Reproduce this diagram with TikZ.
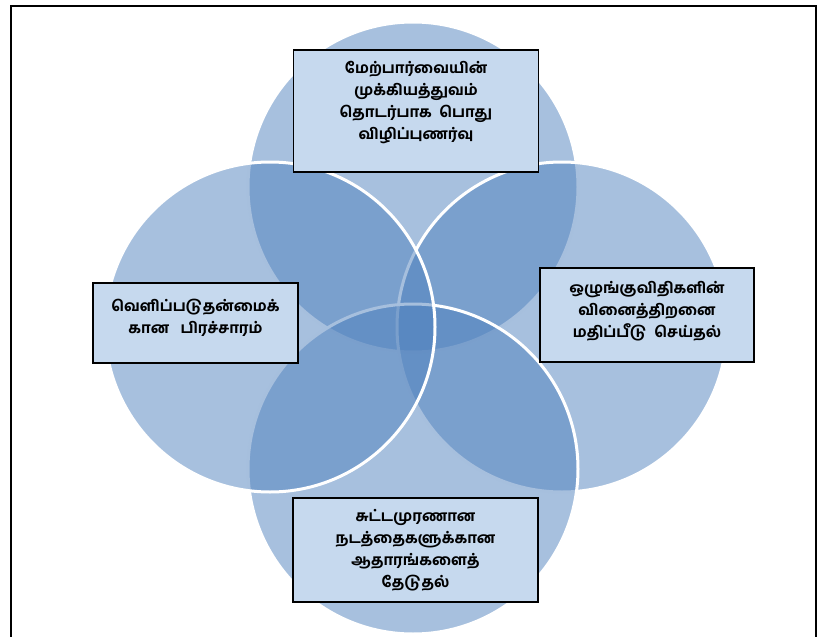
\documentclass[tikz,border=0pt]{standalone}
\usepackage{fontspec}
\newfontfamily\tamilfont[Script=Tamil]{Hind Madurai Bold}
\usepackage{tikz}
\definecolor{vennblue}{RGB}{79,129,189}
\definecolor{boxblue}{RGB}{198,217,238}

\begin{document}
\begin{tikzpicture}[x=1pt,y=-1pt,
  venn/.style={circle,minimum size=330pt,inner sep=0pt,fill=vennblue,fill opacity=0.5,draw=white,draw opacity=1,line width=3pt},
  labelbox/.style={draw=black,line width=1.6pt,fill=boxblue,align=center,inner sep=0pt,
    font=\tamilfont\fontsize{15}{22}\selectfont}]

% Page size and outer frame (open at the bottom)
\clip (0,0) rectangle (820,637);
\draw[line width=2.4pt] (11,660) -- (11,6) -- (816,6) -- (816,660);

% Four overlapping circles: top, right, bottom, left
\node[venn] (ctop) at (413,187) {};
\node[venn] (cright) at (562,327) {};
\node[venn] (cbottom) at (413,469) {};
\node[venn] (cleft) at (270,327) {};

% Top label
\node[labelbox,minimum width=245pt,minimum height=122pt] (ltop) at (416,111)
  {மேற்பார்வையின்\\முக்கியத்துவம்\\தொடர்பாக\ \ பொது\\விழிப்புணர்வு\\[-1pt]};

% Left label
\node[labelbox,minimum width=205pt,minimum height=80pt] (lleft) at (195.5,323)
  {வெளிப்படுதன்மைக்\\கான\ \ \ பிரச்சாரம்\\[-8pt]};

% Right label
\node[labelbox,minimum width=214pt,minimum height=94pt] (lright) at (647,315)
  {ஒழுங்குவிதிகளின்\\வினைத்திறனை\\மதிப்பீடு\ \ செய்தல்\\[-10pt]};

% Bottom label
\node[labelbox,minimum width=245pt,minimum height=104pt] (lbottom) at (415.5,550)
  {சுட்டமுரணான\\நடத்தைகளுக்கான\\ஆதாரங்களைத்\\தேடுதல்};

\end{tikzpicture}
\end{document}
